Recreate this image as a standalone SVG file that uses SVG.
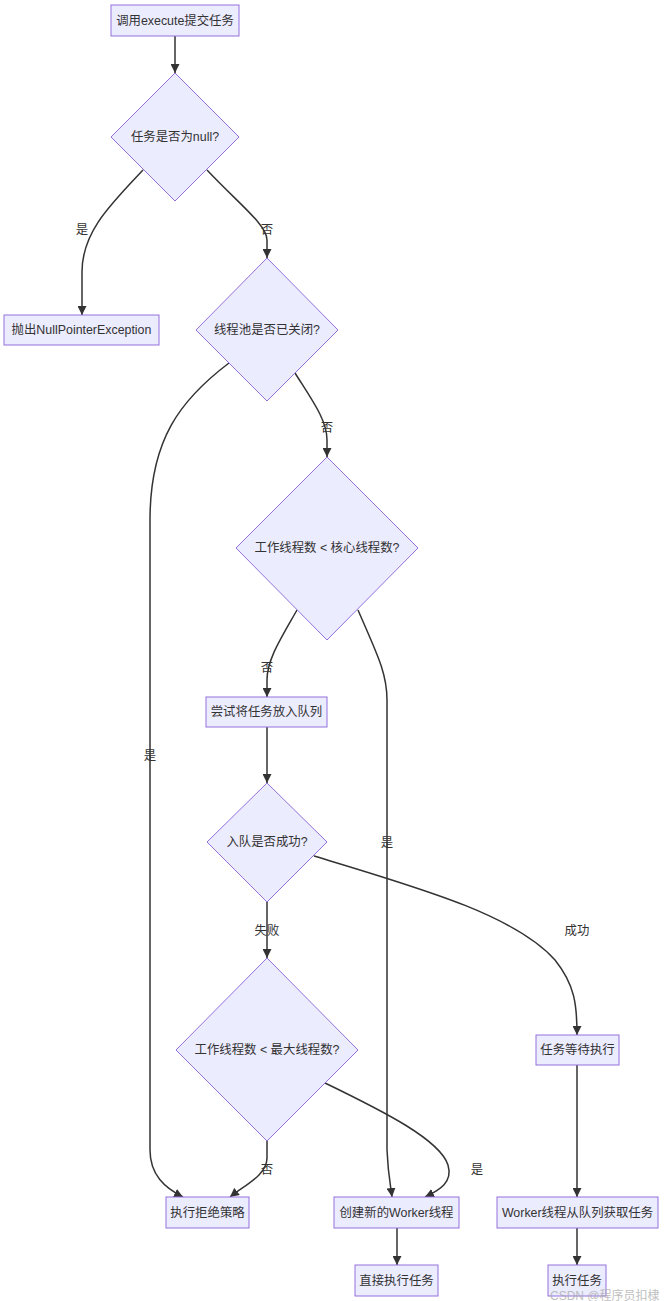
<svg xmlns="http://www.w3.org/2000/svg" width="664" height="1301" viewBox="0 0 664 1301">
<defs>
<marker id="arrow" viewBox="0 0 10 10" refX="10" refY="5" markerWidth="9" markerHeight="9" markerUnits="userSpaceOnUse" orient="auto">
<path d="M0,0 L10,5 L0,10 z" fill="#333333"/>
</marker>
<style>
.node rect, .node polygon { fill: #ECECFF; stroke: #9370DB; stroke-width: 1; }
.node text { font-family: "Liberation Sans", "Noto Sans CJK SC", sans-serif; font-size: 12.4px; fill: #333333; text-anchor: middle; dominant-baseline: central; }
.edges path { fill: none; stroke: #333333; stroke-width: 1.5; marker-end: url(#arrow); }
.labels text { font-family: "Liberation Sans", "Noto Sans CJK SC", sans-serif; font-size: 12.4px; fill: #333333; text-anchor: middle; dominant-baseline: central; }
.wm { font-family: "Liberation Sans", "Noto Sans CJK SC", sans-serif; font-size: 12px; fill: #aaaaaa; opacity: 0.75; }
</style>
</defs>
<rect width="664" height="1301" fill="#ffffff"/>

<g class="edges" id="connectors">
<path d="M175,36 L175,73"/>
<path d="M143,170 C110,205 82,232 82,272 L82,315"/>
<path d="M207,170 C240,205 267,225 267,240 L267,258"/>
<path d="M229,363 C180,400 150,440 150,520 L150,1150 C150,1175 165,1188 183,1197"/>
<path d="M295,373 C312,400 327,420 327,440 L327,457"/>
<path d="M297,610 C280,640 267,660 267,680 L267,697"/>
<path d="M358,610 C376,652 387,672 387,700 L387,1150 C388,1175 391,1188 392,1197"/>
<path d="M267,727 L267,783"/>
<path d="M267,902 L267,958"/>
<path d="M314,856 C420,888 515,915 555,960 C575,985 577,1005 577,1035"/>
<path d="M267,1141 L267,1158 C267,1175 245,1185 230,1197"/>
<path d="M325,1083 C385,1112 440,1140 448,1165 C453,1182 440,1190 425,1197"/>
<path d="M397,1228 L397,1265"/>
<path d="M577,1065 L577,1197"/>
<path d="M577,1228 L577,1265"/>
</g>

<g class="labels" id="edge-labels">
<text x="82" y="230">是</text>
<text x="267" y="230">否</text>
<text x="150" y="756">是</text>
<text x="327" y="428">否</text>
<text x="267" y="668">否</text>
<text x="387" y="843">是</text>
<text x="267" y="931">失败</text>
<text x="577" y="931">成功</text>
<text x="267" y="1170">否</text>
<text x="477" y="1170">是</text>
</g>

<g class="node" id="n-submit">
<rect x="111" y="5" width="128" height="31"/>
<text x="175" y="20.5">调用execute提交任务</text>
</g>
<g class="node" id="n-isnull">
<polygon points="175,73 239,137 175,201 111,137"/>
<text x="175" y="137">任务是否为null?</text>
</g>
<g class="node" id="n-npe">
<rect x="4" y="315" width="155" height="30"/>
<text x="81.5" y="330">抛出NullPointerException</text>
</g>
<g class="node" id="n-shutdown">
<polygon points="267,258 338,330 267,401 196,330"/>
<text x="267" y="330">线程池是否已关闭?</text>
</g>
<g class="node" id="n-core">
<polygon points="327,457 418,548 327,640 236,548"/>
<text x="327" y="548">工作线程数 &lt; 核心线程数?</text>
</g>
<g class="node" id="n-enqueue">
<rect x="206" y="697" width="121" height="30"/>
<text x="266.5" y="712">尝试将任务放入队列</text>
</g>
<g class="node" id="n-enqok">
<polygon points="267,783 327,842 267,902 207,842"/>
<text x="267" y="842">入队是否成功?</text>
</g>
<g class="node" id="n-max">
<polygon points="267,958 358,1050 267,1141 176,1050"/>
<text x="267" y="1050">工作线程数 &lt; 最大线程数?</text>
</g>
<g class="node" id="n-wait">
<rect x="536" y="1035" width="83" height="30"/>
<text x="577.5" y="1050">任务等待执行</text>
</g>
<g class="node" id="n-reject">
<rect x="166" y="1197" width="83" height="31"/>
<text x="207.5" y="1212.5">执行拒绝策略</text>
</g>
<g class="node" id="n-newworker">
<rect x="334" y="1197" width="125" height="31"/>
<text x="396.5" y="1212.5">创建新的Worker线程</text>
</g>
<g class="node" id="n-fetch">
<rect x="497" y="1197" width="161" height="31"/>
<text x="577.5" y="1212.5">Worker线程从队列获取任务</text>
</g>
<g class="node" id="n-direct">
<rect x="355" y="1265" width="83" height="31"/>
<text x="396.5" y="1280.5">直接执行任务</text>
</g>
<g class="node" id="n-exec">
<rect x="548" y="1265" width="58" height="31"/>
<text x="577" y="1280.5">执行任务</text>
</g>

<text class="wm" x="550" y="1299.5">CSDN @程序员扣棣</text>
</svg>
